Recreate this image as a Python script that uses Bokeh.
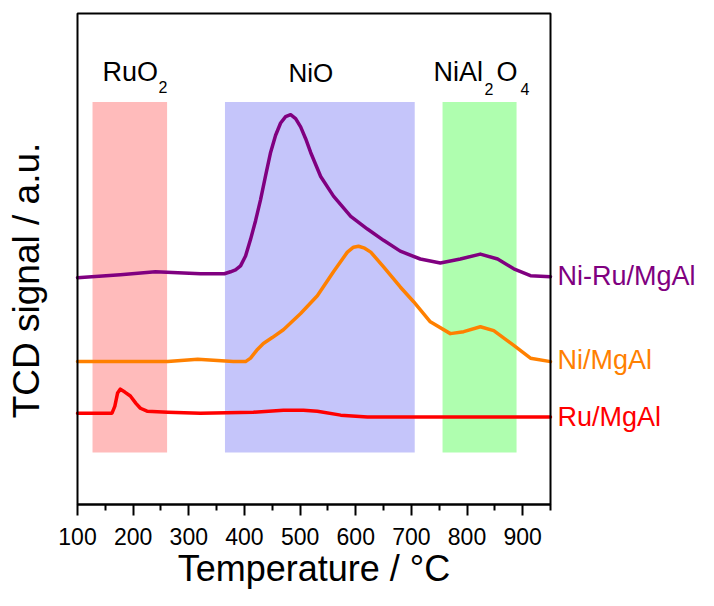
import math
from bokeh.plotting import figure
from bokeh.models import Range1d, FixedTicker
from bokeh.core.properties import value
from bokeh.embed import file_html
from bokeh.resources import INLINE

# ---- data ----
X_MIN, X_MAX = 100, 950
Y_MIN, Y_MAX = 0, 100

band_left = [127, 365, 756]
band_right = [261, 706, 889]
band_bottom = [10.6, 10.6, 10.6]
band_top = [82.0, 82.0, 82.0]
band_colors = ["#FFBBBB", "#C5C5FA", "#AFFEAF"]

niru_T = [100, 177, 240, 321, 364, 375, 384, 393, 402, 411, 420, 429, 438, 447, 456, 465, 474, 483,
          492, 501, 510, 519, 537, 560, 591, 621, 650, 680, 716, 752, 788, 824, 855, 884, 914, 950]
niru_y = [46.2, 46.8, 47.4, 47.0, 47.0, 47.4, 47.8, 48.6, 50.6, 54.0, 57.8, 62.1, 67.0, 71.7, 75.2,
          77.7, 79.0, 79.4, 78.6, 76.9, 74.5, 71.7, 66.8, 62.8, 58.7, 56.1, 53.8, 51.6, 50.0, 49.2,
          50.0, 51.0, 50.0, 48.0, 46.6, 46.4]

ni_T = [100, 262, 316, 380, 402, 411, 422, 434, 450, 470, 501, 531, 560, 585, 596, 605, 616, 627,
        650, 680, 704, 734, 770, 794, 824, 848, 884, 914, 950]
ni_y = [29.1, 29.1, 29.6, 29.1, 29.1, 29.8, 31.4, 32.8, 34.0, 35.6, 38.9, 42.5, 47.4, 51.4, 52.4,
        52.6, 52.2, 51.4, 48.4, 44.3, 41.3, 37.2, 34.8, 35.2, 36.2, 35.4, 32.4, 29.8, 29.1]

ru_T = [100, 162, 167, 172, 177, 185, 195, 205, 213, 225, 262, 321, 416, 470, 506, 531, 573, 621, 680, 950]
ru_y = [18.6, 18.6, 20.0, 22.7, 23.5, 22.9, 22.1, 20.6, 19.6, 19.0, 18.8, 18.6, 18.8, 19.2, 19.2,
        19.0, 18.2, 17.8, 17.8, 17.8]

series_names = ["Ni-Ru/MgAl", "Ni/MgAl", "Ru/MgAl"]
series_colors = ["#800080", "#FF8000", "#FF0000"]

tick_vals = [100, 200, 300, 400, 500, 600, 700, 800, 900]
minor_vals = [150, 250, 350, 450, 550, 650, 750, 850, 950]

x_title = "Temperature / °C"
y_title = "TCD signal / a.u."

FONT = "Liberation Sans"

# ---- layout: the frame covers the whole canvas; the data box sits inside it ----
W, H = 698, 590
BOX_L, BOX_R, BOX_T, BOX_B = 77, 550, 13, 504      # pixel edges of the data box
sx = (BOX_R - BOX_L) / (X_MAX - X_MIN)
sy = (BOX_B - BOX_T) / (Y_MAX - Y_MIN)
x_range = Range1d(X_MIN - BOX_L / sx, X_MAX + (W - BOX_R) / sx)
y_range = Range1d(Y_MIN - (H - BOX_B) / sy, Y_MAX + BOX_T / sy)
BASE_FIX = 0.42   # baseline correction (fraction of font size)


def ypix(py, size=0):
    """data y for a text whose baseline should sit at pixel row py"""
    return Y_MAX - (py - BASE_FIX * size - BOX_T) / sy


def xpix(px):
    return X_MIN + (px - BOX_L) / sx


p = figure(width=W, height=H, x_range=x_range, y_range=y_range,
           output_backend="svg", toolbar_location=None,
           min_border_left=0, min_border_right=0, min_border_top=0, min_border_bottom=0)
p.xgrid.visible = False
p.ygrid.visible = False
p.yaxis.visible = False
p.background_fill_color = "white"
p.border_fill_color = "white"
p.outline_line_color = None

ax = p.xaxis[0]
ax.fixed_location = Y_MIN
ax.bounds = (X_MIN, X_MAX)
ax.ticker = FixedTicker(ticks=tick_vals, minor_ticks=minor_vals)
ax.axis_line_color = "black"
ax.axis_line_width = 2
ax.major_tick_line_color = "black"
ax.major_tick_line_width = 2
ax.major_tick_in = 0
ax.major_tick_out = 11
ax.minor_tick_line_color = "black"
ax.minor_tick_line_width = 2
ax.minor_tick_in = 0
ax.minor_tick_out = 6
ax.major_label_text_font = FONT
ax.major_label_text_font_size = "23px"
ax.major_label_text_color = "black"
ax.major_label_standoff = 12

# shaded regions
p.quad(left=band_left, right=band_right, bottom=band_bottom, top=band_top,
       fill_color=band_colors, line_color=None)

# curves
for T, y, c in [(niru_T, niru_y, series_colors[0]), (ni_T, ni_y, series_colors[1]),
                (ru_T, ru_y, series_colors[2])]:
    p.line(T, y, line_color=c, line_width=3.5, line_join="round", line_cap="round")

# box around the data area
p.quad(left=[X_MIN], right=[X_MAX], bottom=[Y_MIN], top=[Y_MAX],
       fill_color=None, line_color="black", line_width=2)

# series labels on the right
LBL = 27
p.text(x=[X_MAX] * 3, y=[ypix(287, LBL), ypix(371, LBL), ypix(428, LBL)], text=series_names,
       text_color=series_colors, x_offset=7, text_font=value(FONT), text_font_size=f"{LBL}px",
       text_baseline="alphabetic", text_align="left")


# region labels with subscripts
def lab(px, py, t, size, xo=0):
    p.text(x=[xpix(px)], y=[ypix(py, size)], text=[t], x_offset=xo, text_color="black",
           text_font=value(FONT), text_font_size=f"{size}px",
           text_baseline="alphabetic", text_align="left")


lab(102, 83, "RuO", 27)
lab(102, 93, "2", 16, 56)
lab(288, 83, "NiO", 26)
lab(433, 83, "NiAl", 27)
lab(433, 95, "2", 16, 51)
lab(433, 83, "O", 27, 63)
lab(433, 95, "4", 16, 87)

# axis titles
p.text(x=[(X_MIN + X_MAX) / 2], y=[ypix(583, 36)], text=[x_title], text_color="black",
       text_font=value(FONT), text_font_size="36px", text_baseline="alphabetic", text_align="center")
y_title_x = xpix(42 - BASE_FIX * 37)
p.text(x=[y_title_x], y=[ypix(280)], text=[y_title], text_color="black", angle=math.pi / 2,
       text_font=value(FONT), text_font_size="37px", text_baseline="alphabetic", text_align="center")

open("out.html", "w").write(file_html(p, INLINE))
